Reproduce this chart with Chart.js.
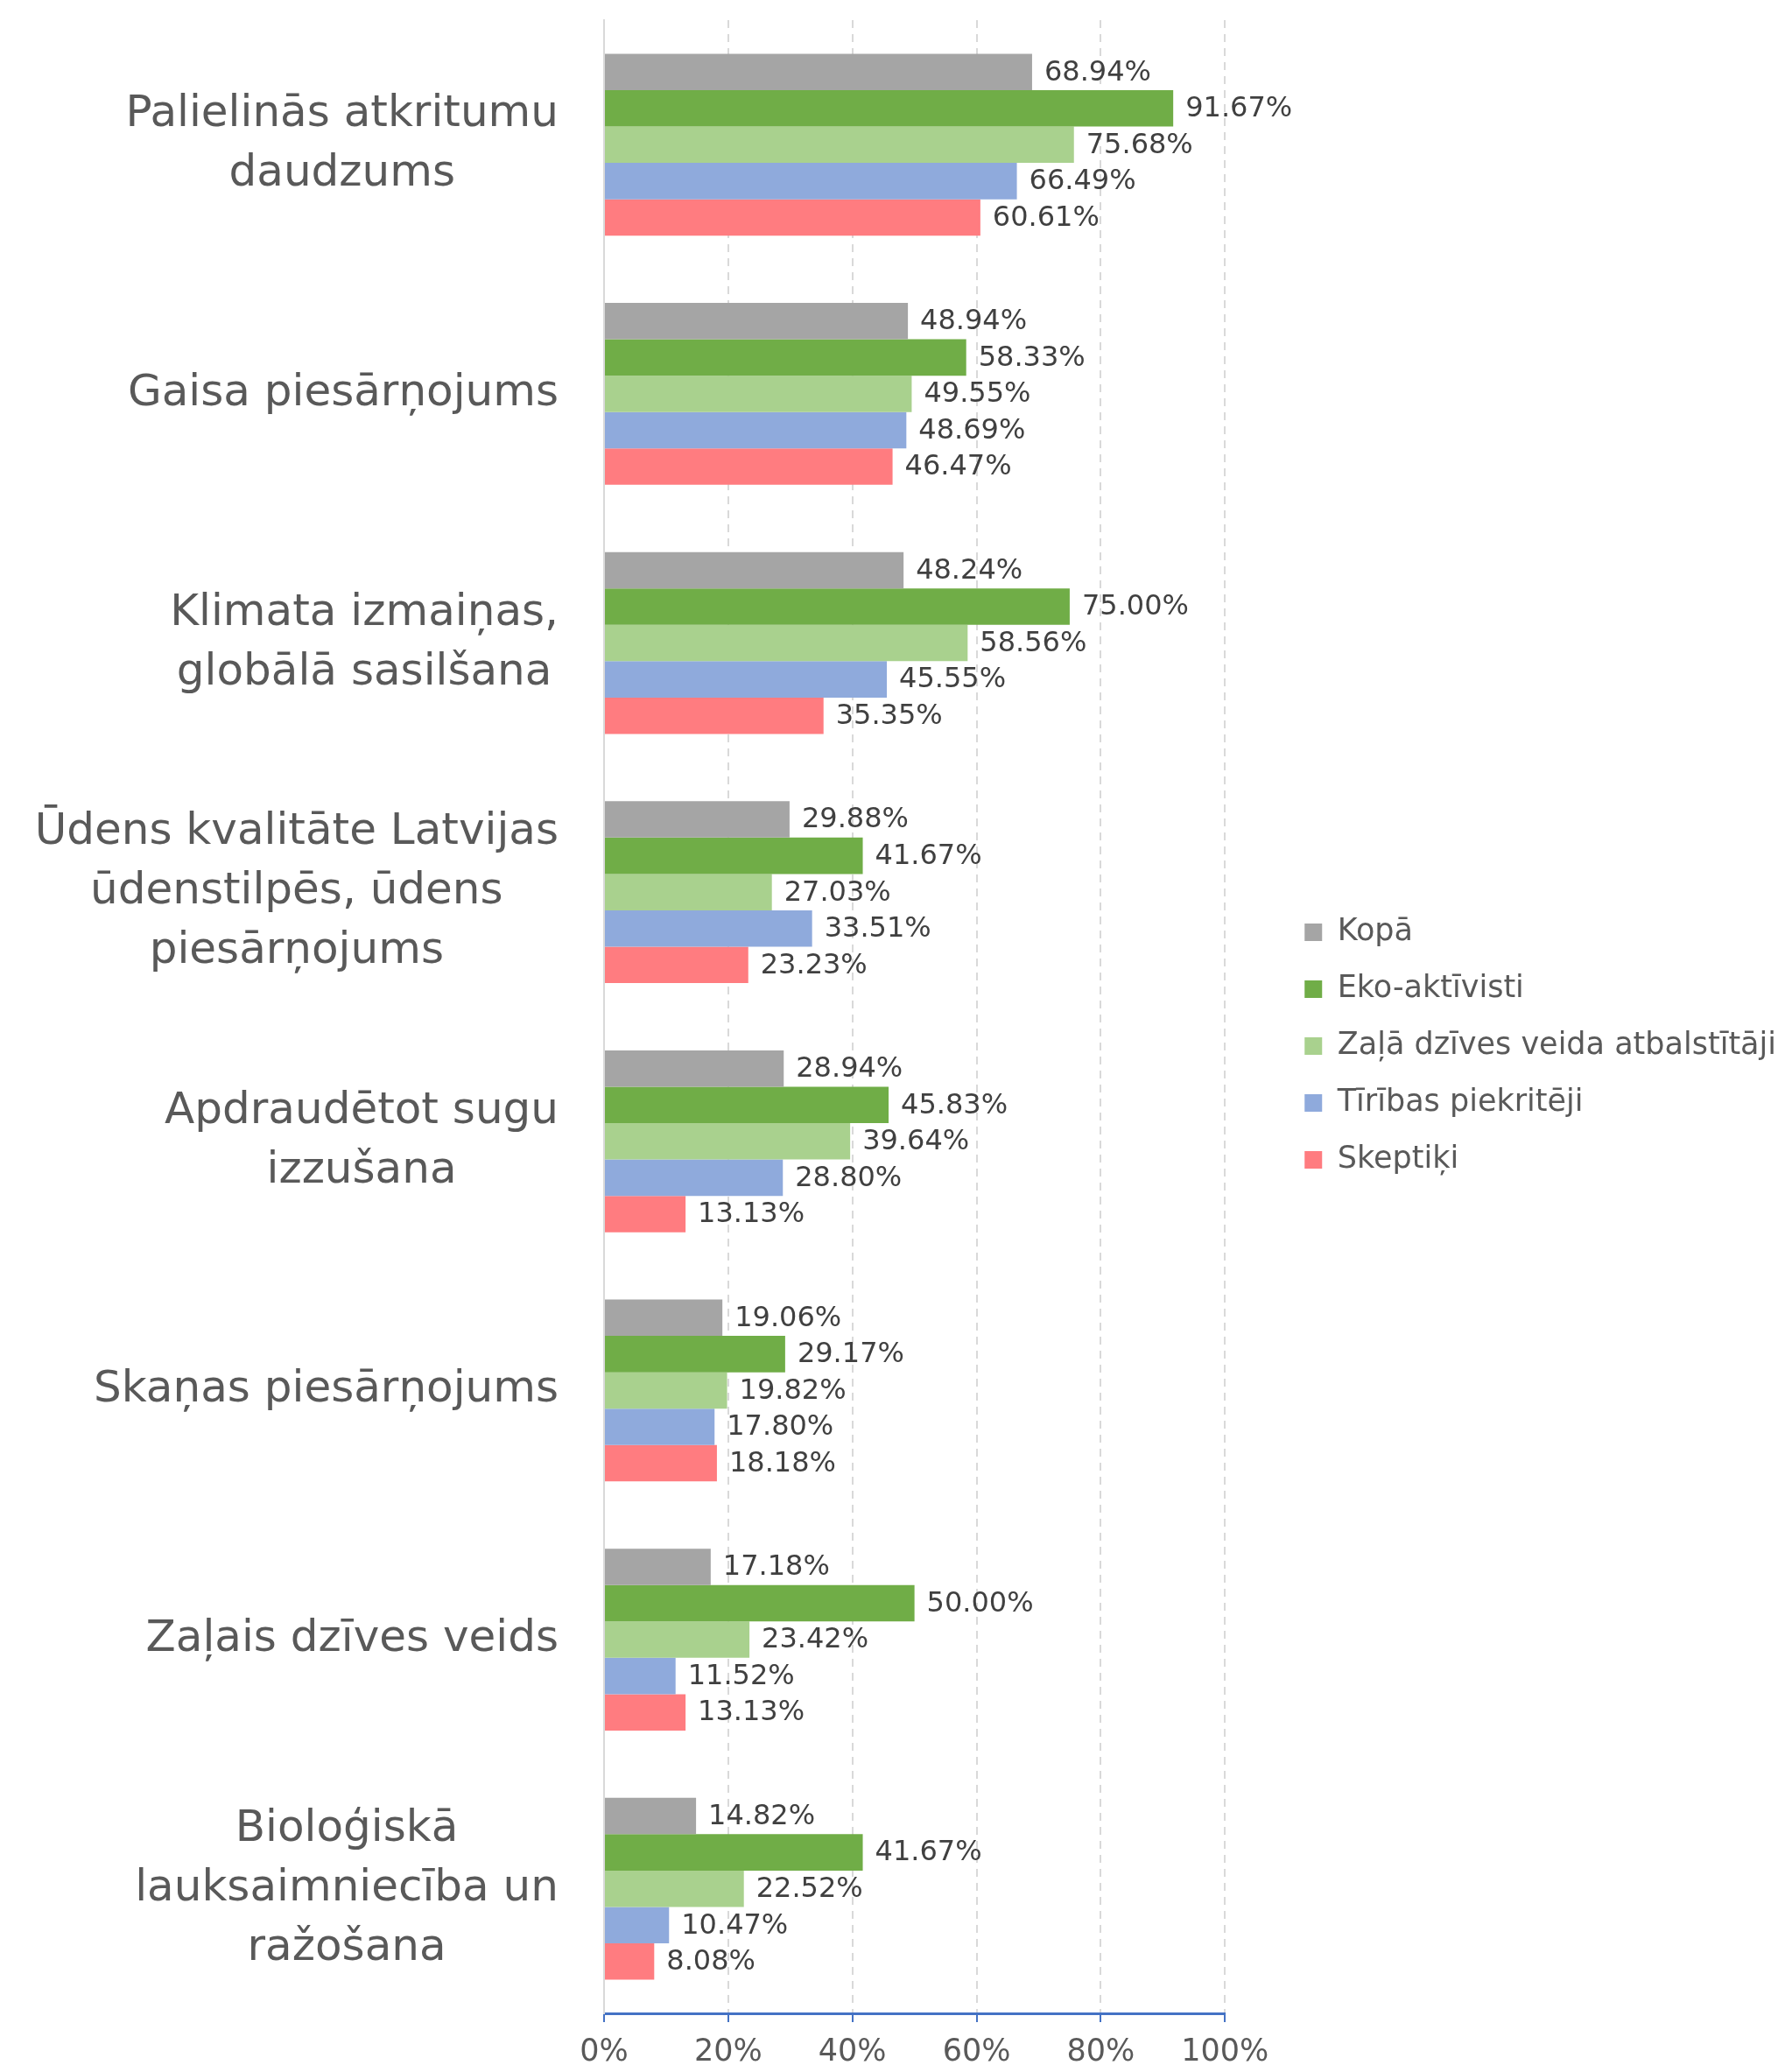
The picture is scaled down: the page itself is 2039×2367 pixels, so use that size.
<!DOCTYPE html>
<html><head><meta charset="utf-8">
<script src="https://cdn.jsdelivr.net/npm/chart.js@4.4.1/dist/chart.umd.min.js"></script>
<style>html,body{margin:0;padding:0;background:#fff;}</style>
</head><body>
<canvas id="c" width="2039" height="2367"></canvas>
<script>
const categories = [
  ["Palielinās atkritumu", "daudzums"],
  ["Gaisa piesārņojums"],
  ["Klimata izmaiņas,", "globālā sasilšana"],
  ["Ūdens kvalitāte Latvijas", "ūdenstilpēs, ūdens", "piesārņojums"],
  ["Apdraudētot sugu", "izzušana"],
  ["Skaņas piesārņojums"],
  ["Zaļais dzīves veids"],
  ["Bioloģiskā", "lauksaimniecība un", "ražošana"]
];
const seriesNames = ["Kopā", "Eko-aktīvisti", "Zaļā dzīves veida atbalstītāji", "Tīrības piekritēji", "Skeptiķi"];
const kopa              = [68.94, 48.94, 48.24, 29.88, 28.94, 19.06, 17.18, 14.82];
const ekoAktivisti      = [91.67, 58.33, 75.00, 41.67, 45.83, 29.17, 50.00, 41.67];
const zalaDzivesVeida   = [75.68, 49.55, 58.56, 27.03, 39.64, 19.82, 23.42, 22.52];
const tiribasPiekriteji = [66.49, 48.69, 45.55, 33.51, 28.80, 17.80, 11.52, 10.47];
const skeptiki          = [60.61, 46.47, 35.35, 23.23, 13.13, 18.18, 13.13, 8.08];
const xTickValues = [0, 20, 40, 60, 80, 100];

const seriesValues = [kopa, ekoAktivisti, zalaDzivesVeida, tiribasPiekriteji, skeptiki];
const seriesColors = ["#A5A5A5", "#70AD47", "#A9D18E", "#8FAADC", "#FF7C80"];
const FONT = "'DejaVu Sans', sans-serif";

const valueLabels = {
  id: 'valueLabels',
  afterDatasetsDraw(chart) {
    const ctx = chart.ctx;
    ctx.save();
    ctx.font = "32px " + FONT;
    ctx.fillStyle = '#404040';
    ctx.textAlign = 'left';
    ctx.textBaseline = 'middle';
    chart.data.datasets.forEach((ds, di) => {
      const meta = chart.getDatasetMeta(di);
      meta.data.forEach((bar, i) => {
        ctx.fillText(ds.data[i].toFixed(2) + '%', bar.x + 14, bar.y + 1);
      });
    });
    ctx.restore();
  }
};

const categoryLabels = {
  id: 'categoryLabels',
  afterDraw(chart) {
    const s = chart.scales.y;
    const ctx = chart.ctx;
    ctx.save();
    ctx.font = "50px " + FONT;
    ctx.fillStyle = '#595959';
    ctx.textAlign = 'center';
    ctx.textBaseline = 'middle';
    const rightEdge = s.right - 52;
    const lineH = 68;
    chart.data.labels.forEach((lines, i) => {
      const y = s.getPixelForValue(i);
      const w = Math.max(...lines.map(l => ctx.measureText(l).width));
      const cx = rightEdge - w / 2;
      lines.forEach((l, k) => {
        ctx.fillText(l, cx, y + (k - (lines.length - 1) / 2) * lineH);
      });
    });
    ctx.restore();
  }
};

new Chart(document.getElementById('c'), {
  type: 'bar',
  data: {
    labels: categories,
    datasets: seriesNames.map((name, k) => ({
      label: name,
      data: seriesValues[k],
      backgroundColor: seriesColors[k],
      borderWidth: 0
    }))
  },
  options: {
    indexAxis: 'y',
    responsive: false,
    animation: false,
    layout: { padding: { top: 23, left: 0, right: 0, bottom: 0 } },
    datasets: { bar: { categoryPercentage: 0.73, barPercentage: 1.0 } },
    plugins: {
      tooltip: { enabled: false },
      legend: {
        position: 'right',
        align: 'center',
        maxWidth: 800,
        labels: {
          boxWidth: 20, boxHeight: 20, padding: 30,
          font: { family: FONT, size: 35 },
          color: '#595959'
        }
      }
    },
    scales: {
      x: {
        type: 'linear', position: 'bottom', min: 0, max: 100,
        afterBuildTicks: s => { s.ticks = xTickValues.map(v => ({ value: v })); },
        afterFit: s => { s.height = 67; },
        ticks: {
          callback: v => v + '%',
          font: { family: FONT, size: 35 },
          color: '#595959',
          padding: 14
        },
        grid: {
          color: c => (c.tick && c.tick.value === 0) ? 'rgba(0,0,0,0)' : '#D9D9D9',
          lineWidth: 2,
          tickColor: '#4472C4',
          tickLength: 10,
          tickWidth: 2
        },
        border: { display: true, color: '#4472C4', width: 3, dash: [9, 7] }
      },
      y: {
        type: 'category', position: 'left',
        grid: { display: false },
        ticks: { display: false },
        border: { display: true, color: '#D9D9D9', width: 2 },
        afterFit: s => { s.width = 690; }
      },
      yPad: {
        type: 'linear', position: 'right', display: true,
        grid: { display: false, drawTicks: false },
        ticks: { display: false },
        border: { display: false },
        afterFit: s => { s.width = 61; }
      }
    }
  },
  plugins: [valueLabels, categoryLabels]
});
</script>
</body></html>
